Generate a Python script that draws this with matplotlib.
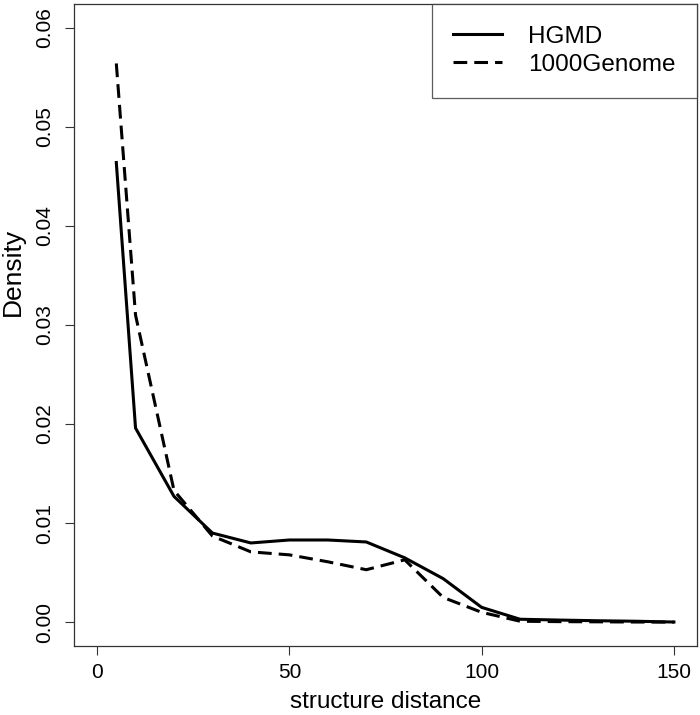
import matplotlib
matplotlib.use("Agg")
import matplotlib.pyplot as plt

plt.rcParams['font.family'] = ['Liberation Sans', 'DejaVu Sans']

distance = [5, 10, 20, 30, 40, 50, 60, 70, 80, 90, 100, 110, 120, 130, 140, 150]
hgmd = [0.0464, 0.0196, 0.0127, 0.0090, 0.0080, 0.0083, 0.0083, 0.0081, 0.0065,
        0.0044, 0.0015, 0.0003, 0.00022, 0.00015, 0.0001, 0.00002]
genome1000 = [0.0564, 0.0310, 0.0133, 0.0087, 0.0071, 0.0068, 0.0061, 0.0053, 0.0063,
              0.0025, 0.0010, 0.0001, 0.00006, 0.00004, 0.00002, 0.00001]
labels = ["HGMD", "1000Genome"]
xticks = [0, 50, 100, 150]
yticks = [0.00, 0.01, 0.02, 0.03, 0.04, 0.05, 0.06]

fig = plt.figure(figsize=(7.0, 7.15), dpi=100)
ax = fig.add_axes([74/700, 1-646/715, (697-74)/700, (646-4)/715])

ax.plot(distance, hgmd, color='black', lw=2.2, label=labels[0])
ax.plot(distance, genome1000, color='black', lw=2.2, dashes=(4.5, 2.3), label=labels[1])

ax.set_xlim(-6, 156)
ax.set_ylim(-0.0024, 0.0624)
ax.set_xticks(xticks)
ax.set_xticklabels([str(t) for t in xticks])
ax.set_yticks(yticks)
ax.set_yticklabels([f"{t:.2f}" for t in yticks], rotation=90, va='center')

ax.tick_params(axis='both', labelsize=15, length=6.5, width=0.8, color='#333333')
ax.tick_params(axis='x', pad=5.5)
ax.tick_params(axis='y', pad=8)
for s in ax.spines.values():
    s.set_linewidth(0.9)
    s.set_color('#333333')

ax.set_xlabel("structure distance", fontsize=17.5, labelpad=7)
ax.set_ylabel("Density", fontsize=19)
ax.yaxis.set_label_coords(-0.079, 0.583)

leg = ax.legend(loc='upper right', borderaxespad=0, fontsize=17.5, frameon=True,
                fancybox=False, edgecolor='#333333', handlelength=2.0,
                labelspacing=0.25, borderpad=0.9, handletextpad=1.05)
leg.get_frame().set_linewidth(0.9)

fig.savefig("out.png", dpi=100)
